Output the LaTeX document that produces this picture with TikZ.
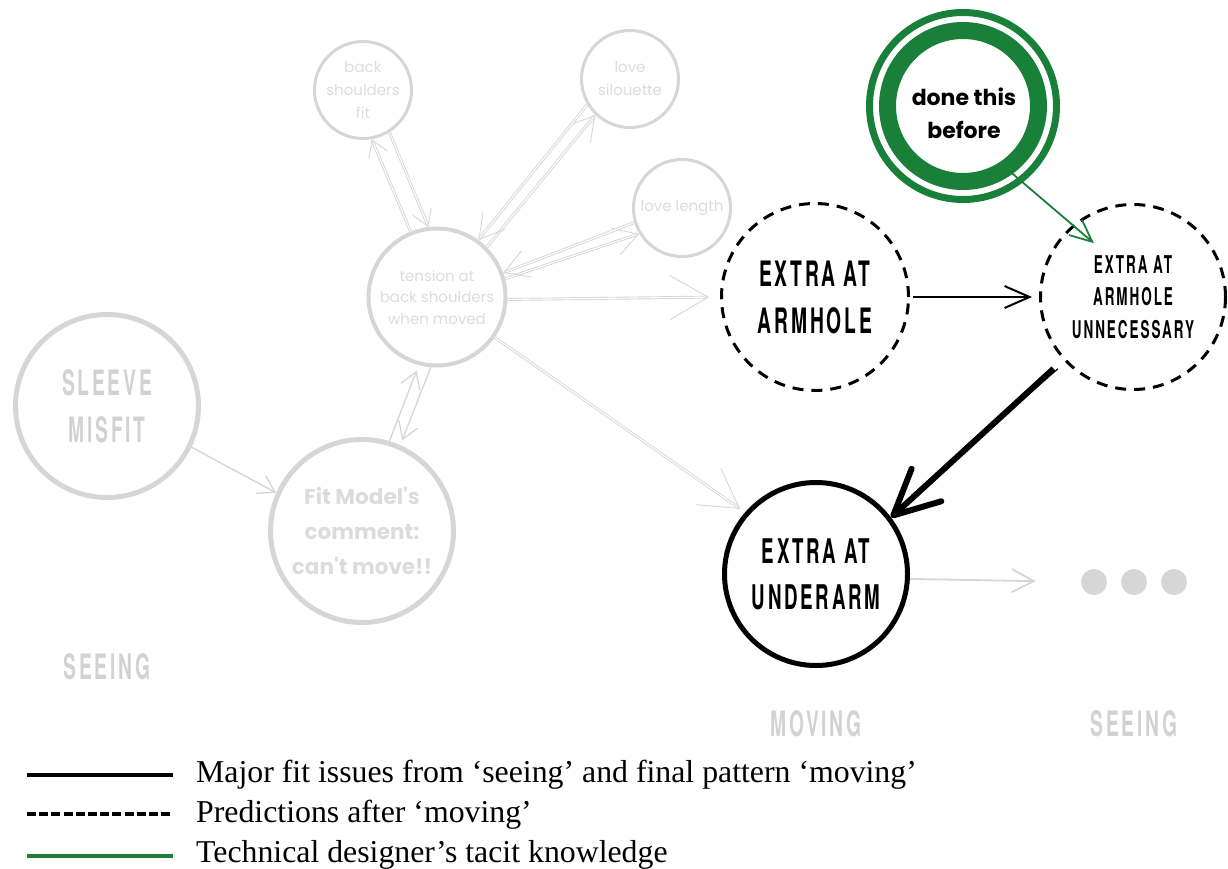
\documentclass[tikz,border=0pt]{standalone}
\usepackage{fontspec}
\setmainfont{Liberation Serif}
\newfontfamily\bebas[FakeStretch=0.55,LetterSpace=8]{TeX Gyre Heros}
\newfontfamily\pop{Poppins}
\usetikzlibrary{arrows.meta}
\definecolor{lg}{HTML}{D6D6D6}
\definecolor{lgt}{HTML}{D2D2D2}
\definecolor{lgp}{HTML}{DCDCDC}
\definecolor{gr}{RGB}{24,128,56}
\begin{document}
\begin{tikzpicture}[x=1pt,y=-1pt,
  lcirc/.style={circle, draw=lg, inner sep=0pt, align=center},
  dcirc/.style={circle, draw=black, dash pattern=on 11pt off 8pt, line width=3pt, inner sep=0pt, align=center},
  popsm/.style={font=\pop\fontsize{15}{23}\selectfont, text=lgp},
  bebbig/.style={font=\bebas\bfseries\fontsize{35}{47}\selectfont},
  dbl/.style={double=white, double distance=1.1pt, line width=0.9pt},
  la/.style={draw=lg, dbl, -{Straight Barb[length=24pt,width=28pt]}},
  lasmall/.style={draw=lg, dbl, -{Straight Barb[length=16pt,width=20pt]}},
  labig/.style={draw=lg, dbl, -{Straight Barb[length=38pt,width=44pt]}},
  legtext/.style={anchor=base west, inner sep=0pt, font=\fontsize{31.8}{40}\selectfont}
]
\useasboundingbox (0,0) rectangle (1228,869);

% light nodes
\node[lcirc, line width=3pt, minimum size=97pt, popsm] (bsf) at (363,90) {back\\shoulders\\fit};
\node[lcirc, line width=3pt, minimum size=97pt, popsm] (sil) at (630,79) {love\\silouette};
\node[lcirc, line width=3pt, minimum size=97pt, popsm] (len) at (682,208) {love length};
\node[lcirc, line width=4pt, minimum size=137pt, font=\pop\fontsize{15}{21.5}\selectfont, text=lgp] (ten) at (437,297) {tension at\\back shoulders\\when moved};
\node[lcirc, line width=5pt, minimum size=183pt, bebbig, text=lgt] (sle) at (107,406) {SLEEVE\\MISFIT};
\node[lcirc, line width=5pt, minimum size=183pt, font=\pop\bfseries\fontsize{21.5}{35}\selectfont, text=lgp] (fit) at (362,531) {Fit Model's\\comment:\\can't move!!};

% dark nodes
\node[dcirc, minimum size=187pt, bebbig] (arm) at (815,297) {EXTRA AT\\ARMHOLE};
\node[dcirc, minimum size=185pt, font=\bebas\bfseries\fontsize{24.5}{32.5}\selectfont] (unn) at (1133,297) {EXTRA AT\\ARMHOLE\\UNNECESSARY};
\node[circle, draw=black, line width=5pt, minimum size=183pt, inner sep=0pt, align=center, font=\bebas\bfseries\fontsize{34}{46}\selectfont] (und) at (816,574) {EXTRA AT\\UNDERARM};
\node[circle, draw=gr, line width=7pt, minimum size=187pt, inner sep=0pt] (done) at (963,106) {};
\draw[gr, line width=17pt] (done.center) circle[radius=75.5];
\node[align=center, inner sep=0pt, font=\pop\bfseries\fontsize{22}{33}\selectfont] (donet) at (964,113) {done this\\before};

% dots
\node[minimum width=106pt, minimum height=26pt, inner sep=0pt] (dots) at (1134,582) {};
\fill[lg] (1094,582) circle[radius=13];
\fill[lg] (1134,582) circle[radius=13];
\fill[lg] (1174,582) circle[radius=13];

% phase labels
\node[bebbig, text=lgt] (seeA) at (107,667) {SEEING};
\node[bebbig, text=lgt] (movB) at (816,724) {MOVING};
\node[bebbig, text=lgt] (seeC) at (1134,724) {SEEING};

% light connectors
\draw[lasmall] (bsf.-58) -- (ten.97);
\draw[lasmall] (ten.112) -- (bsf.-80);
\draw[la] (ten.45) -- (sil.-134);
\draw[la] (sil.-149) -- (ten.54);
\draw[la] (ten.15) -- (len.-149);
\draw[la] (len.-163) -- (ten.20);
\draw[labig, shorten >=11pt] (ten.-2) -- (arm.west);
\draw[labig, shorten >=6pt] (ten.-35) -- (und.139);
\draw[draw=lg, line width=1.4pt, -{Straight Barb[length=16pt,width=20pt]}] (sle.-26) -- (fit.156);
\draw[draw=lg, line width=1.3pt, -{Straight Barb[length=16pt,width=20pt]}, shorten >=6pt] (fit.73) -- (ten.-105);
\draw[draw=lg, line width=1.3pt, -{Straight Barb[length=16pt,width=20pt]}, shorten >=5pt] (ten.-95) -- (fit.66);
\draw[draw=lg, line width=1.8pt, -{Straight Barb[length=22pt,width=23pt]}, shorten >=45pt] (und.-3) -- (dots.west);

% dark connectors
\draw[black, line width=2pt, -{Straight Barb[length=25pt,width=22pt]}, shorten >=7pt, shorten <=3pt] (arm.east) -- (unn.west);
\draw[gr, line width=1.8pt, -{Straight Barb[length=22pt,width=20pt]}, shorten <=-27pt, shorten >=-28pt] (done.-52) -- (unn.130);
\draw[black, line width=6pt, -{Straight Barb[round,length=45pt,width=44pt]}, shorten <=13pt] (unn.-138) -- (und.37);
\draw[black, line width=1.2pt, shorten <=10pt, shorten >=30pt] (unn.-136) -- (und.39);

% legend
\coordinate (l1a) at (27,775); \coordinate (l1b) at (173,775);
\coordinate (l2a) at (27,814); \coordinate (l2b) at (173,814);
\coordinate (l3a) at (27,856); \coordinate (l3b) at (173,856);
\draw[black, line width=4pt] (l1a) -- (l1b);
\draw[black, line width=4pt, dash pattern=on 9pt off 3.2pt] (l2a) -- (l2b);
\draw[gr, line width=4.5pt] (l3a) -- (l3b);
\node[legtext] (t1) at (196,782) {Major fit issues from ‘seeing’ and final pattern ‘moving’};
\node[legtext] (t2) at (196,822) {Predictions after ‘moving’};
\node[legtext] (t3) at (196,862) {Technical designer’s tacit knowledge};
\end{tikzpicture}
\end{document}
